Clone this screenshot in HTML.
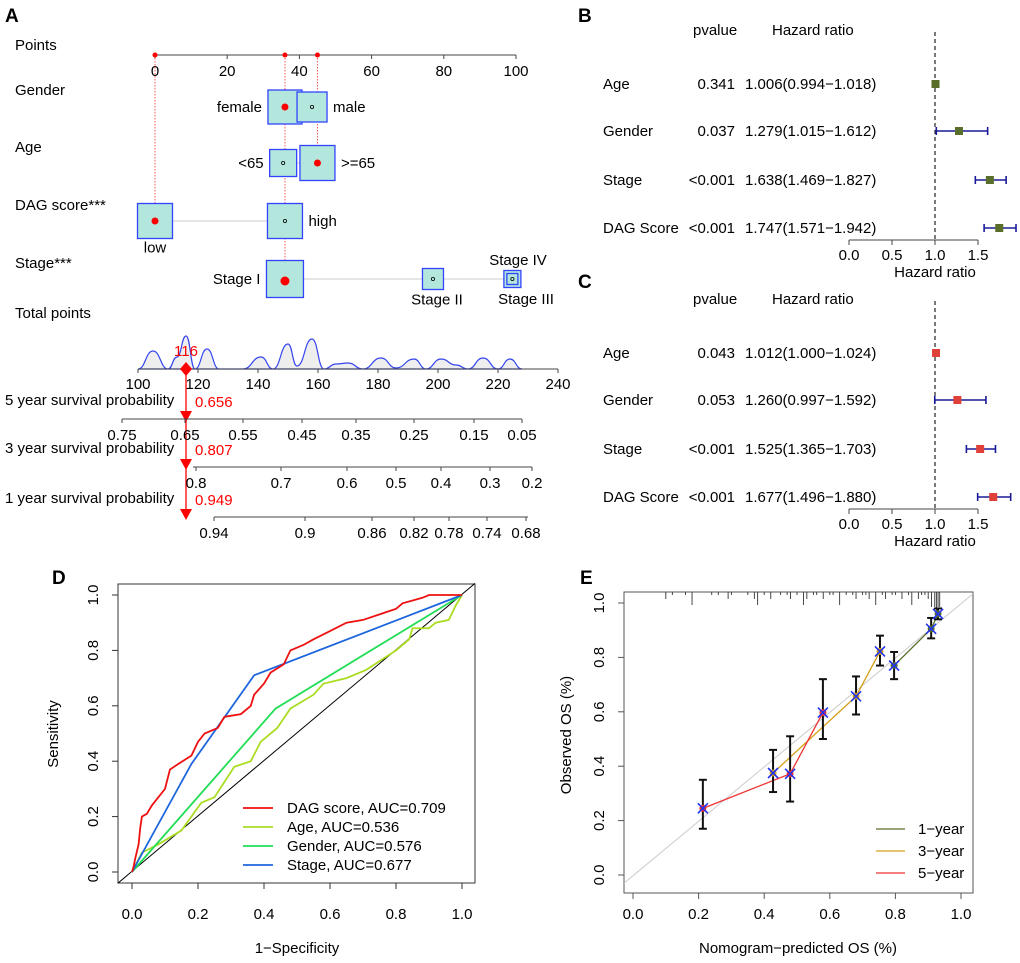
<!DOCTYPE html>
<html><head><meta charset="utf-8"><style>
body{margin:0;background:#fff}
svg{display:block;font-family:"Liberation Sans",Arial,sans-serif}
</style></head><body>
<svg id="s" width="1020" height="963" viewBox="0 0 1020 963" xmlns="http://www.w3.org/2000/svg">
<g font-weight="bold" font-size="19">
<text x="5" y="22">A</text>
<text x="578" y="22">B</text>
<text x="578" y="288">C</text>
<text x="52" y="584">D</text>
<text x="580" y="584">E</text>
</g>
<g id="A"></g>
<g id="B"></g>
<g id="C"></g>
<g id="D"></g>
<g id="E"></g>
</svg>
<script>
// ---------- data ----------
const forestVars=["Age","Gender","Stage","DAG Score"];
const forestBP=["0.341","0.037","<0.001","<0.001"];
const forestBHR=[1.006,1.279,1.638,1.747];
const forestBLo=[0.994,1.015,1.469,1.571];
const forestBHi=[1.018,1.612,1.827,1.942];
const forestCP=["0.043","0.053","<0.001","<0.001"];
const forestCHR=[1.012,1.260,1.525,1.677];
const forestCLo=[1.000,0.997,1.365,1.496];
const forestCHi=[1.024,1.592,1.703,1.880];
const forestTicks=[0,0.5,1,1.5];

const rocNames=["DAG score, AUC=0.709","Age, AUC=0.536","Gender, AUC=0.576","Stage, AUC=0.677"];
const rocDagX=[0,0.005,0.01,0.02,0.025,0.03,0.045,0.06,0.08,0.1,0.115,0.14,0.18,0.2,0.22,0.26,0.28,0.33,0.36,0.37,0.4,0.42,0.46,0.48,0.52,0.55,0.6,0.65,0.7,0.75,0.8,0.82,0.88,0.9,1];
const rocDagY=[0,0.02,0.05,0.1,0.16,0.2,0.21,0.24,0.27,0.3,0.37,0.39,0.42,0.47,0.5,0.52,0.56,0.57,0.6,0.64,0.68,0.72,0.75,0.8,0.82,0.84,0.87,0.9,0.91,0.93,0.95,0.97,0.99,1,1];
const rocAgeX=[0,0.03,0.08,0.15,0.21,0.25,0.31,0.36,0.39,0.44,0.48,0.55,0.58,0.65,0.71,0.8,0.84,0.85,0.9,0.92,0.96,0.98,1];
const rocAgeY=[0,0.07,0.1,0.15,0.25,0.27,0.38,0.4,0.47,0.52,0.59,0.64,0.68,0.7,0.73,0.8,0.84,0.88,0.88,0.9,0.91,0.96,1];
const rocGenX=[0,0.435,1];
const rocGenY=[0,0.59,1];
const rocStgX=[0,0.18,0.37,1];
const rocStgY=[0,0.39,0.71,1];
const axisTicks=[0,0.2,0.4,0.6,0.8,1];

const calPred=[0.213,0.427,0.479,0.579,0.68,0.753,0.796,0.909,0.93];
const calObs=[0.245,0.375,0.372,0.597,0.657,0.822,0.77,0.905,0.96];
const calLo=[0.17,0.305,0.27,0.50,0.59,0.77,0.72,0.87,0.94];
const calHi=[0.35,0.46,0.51,0.72,0.73,0.88,0.82,0.945,0.98];
const cal1yr=[6,7,8];
const cal3yr=[1,4,5];
const cal5yr=[0,2,3];
const calRug=[0.1,0.12,0.16,0.18,0.24,0.26,0.29,0.3,0.35,0.37,0.38,0.4,0.42,0.45,0.47,0.48,0.5,0.52,0.53,0.55,0.56,0.58,0.6,0.61,0.63,0.65,0.67,0.68,0.7,0.71,0.72,0.74,0.76,0.77,0.79,0.8,0.82,0.84,0.85,0.87,0.88,0.89,0.9,0.91,0.92,0.925,0.93,0.935];

const nomPointTicks=[0,20,40,60,80,100];
const totalTicks=[100,120,140,160,180,200,220,240];
const densX=[100,105,110,113,116,119,123,127,135,141,145,150,153,158,162,166,170,175,181,186,192,196,201,206,210,215,220,224,228];
const densY=[0,18,0,12,33,0,20,0,0,12,0,25,3,30,0,5,6,0,11,1,10,0,10,4,0,11,0,10,0];

// ---------- helpers ----------
const NS="http://www.w3.org/2000/svg";
function mk(parent,tag,attrs,text){const e=document.createElementNS(NS,tag);for(const k in attrs)e.setAttribute(k,attrs[k]);if(text!==undefined)e.textContent=text;parent.appendChild(e);return e;}

// ---------- Panel A: nomogram ----------
(function(){
const g=document.getElementById('A');
const px=p=>155+p*3.61;
const tx=t=>138+(t-100)*3;
let e;
const labels=[["Points",50],["Gender",95],["Age",152],["DAG score***",210],["Stage***",268],["Total points",318]];
labels.forEach(l=>{e=mk(g,'text',{x:15,y:l[1],'font-size':15},l[0]);

});
e=mk(g,'line',{x1:px(0),x2:px(100),y1:55,y2:55,stroke:'#444'});


nomPointTicks.forEach(t=>{mk(g,'line',{x1:px(t),x2:px(t),y1:55,y2:59,stroke:'#444'});
e=mk(g,'text',{x:px(t),y:76,'font-size':15,'text-anchor':'middle'},t);

});
[0,36,45].forEach(p=>{mk(g,'line',{x1:px(p),x2:px(p),y1:55,y2:p===0?221:(p===36?279:163),stroke:'#f55','stroke-dasharray':'1.5,1.5'});
mk(g,'circle',{cx:px(p),cy:55,r:2.5,fill:'red'});});
const boxes=[[0,221,35,true,'low',1],[36,221,35,false,'high',0],[36,107,34,true,'female',2],[43.5,107,30,false,'male',0],[35.5,163,27,false,'<65',2],[45,163,35,true,'>=65',0],[36,279,37,true,'Stage I',2],[77,279,21,false,'Stage II',3],[99,279,17,false,'',0],[99,279,11,false,'',0]];
mk(g,'line',{x1:px(0),x2:px(36),y1:221,y2:221,stroke:'#ccc'});
mk(g,'line',{x1:px(36),x2:px(99),y1:279,y2:279,stroke:'#ccc'});
mk(g,'line',{x1:px(35.5),x2:px(45),y1:163,y2:163,stroke:'#ccc'});
boxes.forEach(b=>{const c=px(b[0]);
e=mk(g,'rect',{x:c-b[2]/2,y:b[1]-b[2]/2,width:b[2],height:b[2],fill:'#b3e6dc',stroke:'#3344ff','stroke-width':1.3});


if(b[3])mk(g,'circle',{cx:c,cy:b[1]+(b[1]===279?2:0),r:b[1]===279?4.5:3.5,fill:'red'});
else mk(g,'circle',{cx:c,cy:b[1],r:1.6,fill:'none',stroke:'#000','stroke-width':0.8});
if(b[4]){let x,y=b[1]+5,anc='start';
if(b[5]===0){x=c+b[2]/2+6;}else if(b[5]===2){x=c-b[2]/2-6;anc='end';}else if(b[5]===1){x=c;y=b[1]+b[2]/2+14;anc='middle';}else{x=c+4;y=b[1]+b[2]/2+15;anc='middle';}
e=mk(g,'text',{x:x,y:y,'font-size':15,'text-anchor':anc},b[4]);

}});
mk(g,'text',{x:518,y:265,'font-size':15,'text-anchor':'middle'},'Stage IV');
mk(g,'text',{x:526,y:304,'font-size':15,'text-anchor':'middle'},'Stage III');
// density
let d='M'+tx(densX[0])+','+(369-densY[0]);
for(let i=1;i<densX.length;i++){const x0=tx(densX[i-1]),x1=tx(densX[i]),y0=369-densY[i-1],y1=369-densY[i];const m=(x0+x1)/2;d+=` C${m},${y0} ${m},${y1} ${x1},${y1}`;}
e=mk(g,'path',{d:d+' Z',fill:'#eee',stroke:'#3344ee','stroke-width':1.2});


e=mk(g,'line',{x1:tx(100),x2:tx(240),y1:369,y2:369,stroke:'#444'});


totalTicks.forEach(t=>{mk(g,'line',{x1:tx(t),x2:tx(t),y1:369,y2:373,stroke:'#444'});
e=mk(g,'text',{x:tx(t),y:389,'font-size':15,'text-anchor':'middle'},t);

});
const surv=[["5 year survival probability",419,122,522,"0.656",[["0.75",122],["0.65",185],["0.55",243],["0.45",302],["0.35",356],["0.25",414],["0.15",474],["0.05",522]]],
["3 year survival probability",467,193,532,"0.807",[["0.8",196],["0.7",281],["0.6",347],["0.5",396],["0.4",441],["0.3",490],["0.2",532]]],
["1 year survival probability",517,214,528,"0.949",[["0.94",214],["0.9",305],["0.86",372],["0.82",414],["0.78",449],["0.74",487],["0.68",526]]]];
const mx=tx(116);
mk(g,'line',{x1:mx,x2:mx,y1:369,y2:517,stroke:'red','stroke-width':1.3});
mk(g,'path',{d:`M${mx},362 L${mx+6},369 L${mx},376 L${mx-6},369Z`,fill:'red'});
mk(g,'text',{x:mx,y:356,'font-size':15,fill:'red','text-anchor':'middle'},'116');
surv.forEach(s=>{e=mk(g,'text',{x:5,y:s[1]-14,'font-size':15},s[0]);


mk(g,'text',{x:mx+9,y:s[1]-12,'font-size':15,fill:'red'},s[4]);
mk(g,'path',{d:`M${mx-6},${s[1]-8} L${mx+6},${s[1]-8} L${mx},${s[1]+3}Z`,fill:'red'});
e=mk(g,'line',{x1:s[2],x2:s[3],y1:s[1],y2:s[1],stroke:'#444'});


s[5].forEach(t=>{mk(g,'line',{x1:t[1],x2:t[1],y1:s[1],y2:s[1]+4,stroke:'#444'});
mk(g,'text',{x:t[1],y:s[1]+21,'font-size':15,'text-anchor':'middle'},t[0]);});});
})();

// ---------- Panels B & C: forest plots ----------
function forest(id,top,pv,hr,lo,hi,col){
const g=document.getElementById(id);
const fx=v=>849+v*86;
const rows=[top+84,top+131,top+180,top+228];
const axY=top+240;
let e;
e=mk(g,'text',{x:693,y:top+35,'font-size':15},'pvalue');


e=mk(g,'text',{x:772,y:top+35,'font-size':15},'Hazard ratio');


mk(g,'line',{x1:fx(1),x2:fx(1),y1:top+32,y2:axY,stroke:'#333','stroke-width':1.3,'stroke-dasharray':'4,3'});
forestVars.forEach((v,i)=>{const y=rows[i];
e=mk(g,'text',{x:603,y:y+5,'font-size':15},v);


e=mk(g,'text',{x:735,y:y+5,'font-size':15,'text-anchor':'end'},pv[i]);


e=mk(g,'text',{x:745,y:y+5,'font-size':15},hr[i].toFixed(3)+'('+lo[i].toFixed(3)+'\u2212'+hi[i].toFixed(3)+')');


e=mk(g,'line',{x1:fx(lo[i]),x2:fx(hi[i]),y1:y,y2:y,stroke:'#1a1a99','stroke-width':1.6});


[lo[i],hi[i]].forEach(v=>mk(g,'line',{x1:fx(v),x2:fx(v),y1:y-4,y2:y+4,stroke:'#1a1a99','stroke-width':1.6}));
e=mk(g,'rect',{x:fx(hr[i])-4,y:y-4,width:8,height:8,fill:col});

});
mk(g,'line',{x1:fx(0),x2:fx(1.5),y1:axY,y2:axY,stroke:'#444'});
forestTicks.forEach(t=>{mk(g,'line',{x1:fx(t),x2:fx(t),y1:axY,y2:axY+5,stroke:'#444'});
mk(g,'text',{x:fx(t),y:axY+20,'font-size':15,'text-anchor':'middle'},t.toFixed(1));});
e=mk(g,'text',{x:fx(1),y:axY+37,'font-size':15,'text-anchor':'middle'},'Hazard ratio');


}
forest('B',0,forestBP,forestBHR,forestBLo,forestBHi,'#5a6e2b');
forest('C',269,forestCP,forestCHR,forestCLo,forestCHi,'#e0403a');

// ---------- Panel D: ROC ----------
(function(){
const g=document.getElementById('D');
const X=v=>132+v*330, Y=v=>872-v*277;
let e;
e=mk(g,'rect',{x:118,y:584,width:357,height:299,fill:'none',stroke:'#333'});


axisTicks.forEach(t=>{mk(g,'line',{x1:X(t),x2:X(t),y1:883,y2:889,stroke:'#333'});
e=mk(g,'text',{x:X(t),y:919,'font-size':15,'text-anchor':'middle'},t.toFixed(1));


mk(g,'line',{x1:112,x2:118,y1:Y(t),y2:Y(t),stroke:'#333'});
e=mk(g,'text',{x:0,y:0,'font-size':15,'text-anchor':'middle',transform:`translate(98,${Y(t)}) rotate(-90)`},t.toFixed(1));

});
e=mk(g,'text',{x:297,y:953,'font-size':15,'text-anchor':'middle'},'1\u2212Specificity');


e=mk(g,'text',{x:0,y:0,'font-size':15,'text-anchor':'middle',transform:'translate(58,734) rotate(-90)'},'Sensitivity');


mk(g,'line',{x1:118,y1:Y(-0.04),x2:475,y2:Y(1.04)-0.5,stroke:'#000'});
const series=[[rocAgeX,rocAgeY,'#aadd22'],[rocGenX,rocGenY,'#22dd55'],[rocStgX,rocStgY,'#1e66dd'],[rocDagX,rocDagY,'#ee1111']];
const names=['roc-age','roc-gender','roc-stage','roc-dag-score'];
series.forEach((s,k)=>{let d='';s[0].forEach((x,i)=>{d+=(i?'L':'M')+X(x)+','+Y(s[1][i]);});
e=mk(g,'path',{d:d,fill:'none',stroke:s[2],'stroke-width':1.8});

});
const lc=['#ee1111','#aadd22','#22dd55','#1e66dd'];
rocNames.forEach((n,i)=>{const y=808+i*19;
mk(g,'line',{x1:243,x2:273,y1:y,y2:y,stroke:lc[i],'stroke-width':1.8});
e=mk(g,'text',{x:287,y:y+5,'font-size':15},n);

});
})();

// ---------- Panel E: calibration ----------
(function(){
const g=document.getElementById('E');
const X=v=>633+v*328, Y=v=>875-v*272;
let e;
e=mk(g,'rect',{x:624,y:592,width:349,height:301,fill:'none',stroke:'#555'});


mk(g,'line',{x1:624,y1:Y(-0.03),x2:973,y2:Y(1.034),stroke:'#ccc'});
calRug.forEach((r,i)=>{e=mk(g,'line',{x1:X(r),x2:X(r),y1:592,y2:592+(i%7===3?13:(i%3===0?7:3))+(r>0.9?12:0),stroke:'#333','stroke-width':0.9});

});
axisTicks.forEach(t=>{mk(g,'line',{x1:X(t),x2:X(t),y1:893,y2:899,stroke:'#555'});
e=mk(g,'text',{x:X(t),y:919,'font-size':15,'text-anchor':'middle'},t.toFixed(1));


mk(g,'line',{x1:618,x2:624,y1:Y(t),y2:Y(t),stroke:'#555'});
e=mk(g,'text',{x:0,y:0,'font-size':15,'text-anchor':'middle',transform:`translate(604,${Y(t)}) rotate(-90)`},t.toFixed(1));

});
e=mk(g,'text',{x:798,y:953,'font-size':15,'text-anchor':'middle'},'Nomogram\u2212predicted OS (%)');


e=mk(g,'text',{x:0,y:0,'font-size':15,'text-anchor':'middle',transform:'translate(571,735) rotate(-90)'},'Observed OS (%)');


[[cal1yr,'#5a6e2b','calibration-1-year'],[cal3yr,'#d4a017','calibration-3-year'],[cal5yr,'#ee3333','calibration-5-year']].forEach(s=>{let d='';s[0].forEach((k,i)=>{d+=(i?'L':'M')+X(calPred[k])+','+Y(calObs[k]);});
e=mk(g,'path',{d:d,fill:'none',stroke:s[1],'stroke-width':1.3});

});
calPred.forEach((p,i)=>{const x=X(p);
e=mk(g,'line',{x1:x,x2:x,y1:Y(calLo[i]),y2:Y(calHi[i]),stroke:'#111','stroke-width':2});


[calLo[i],calHi[i]].forEach(v=>mk(g,'line',{x1:x-4,x2:x+4,y1:Y(v),y2:Y(v),stroke:'#111','stroke-width':2}));
const y=Y(calObs[i]);
const col=cal5yr.includes(i)?'#ee3333':(cal3yr.includes(i)?'#d4a017':'#5a6e2b');
mk(g,'circle',{cx:x,cy:y,r:3.5,fill:col});
e=mk(g,'path',{d:`M${x-5},${y-5}L${x+5},${y+5}M${x-5},${y+5}L${x+5},${y-5}`,stroke:'#2233ee','stroke-width':1.6});

});
[['1\u2212year','#5a6e2b'],['3\u2212year','#d4a017'],['5\u2212year','#ee3333']].forEach((l,i)=>{const y=829+i*22;
mk(g,'line',{x1:876,x2:905,y1:y,y2:y,stroke:l[1],'stroke-width':1.3});
e=mk(g,'text',{x:918,y:y+5,'font-size':15},l[0]);

});
})();
</script>
</body></html>
